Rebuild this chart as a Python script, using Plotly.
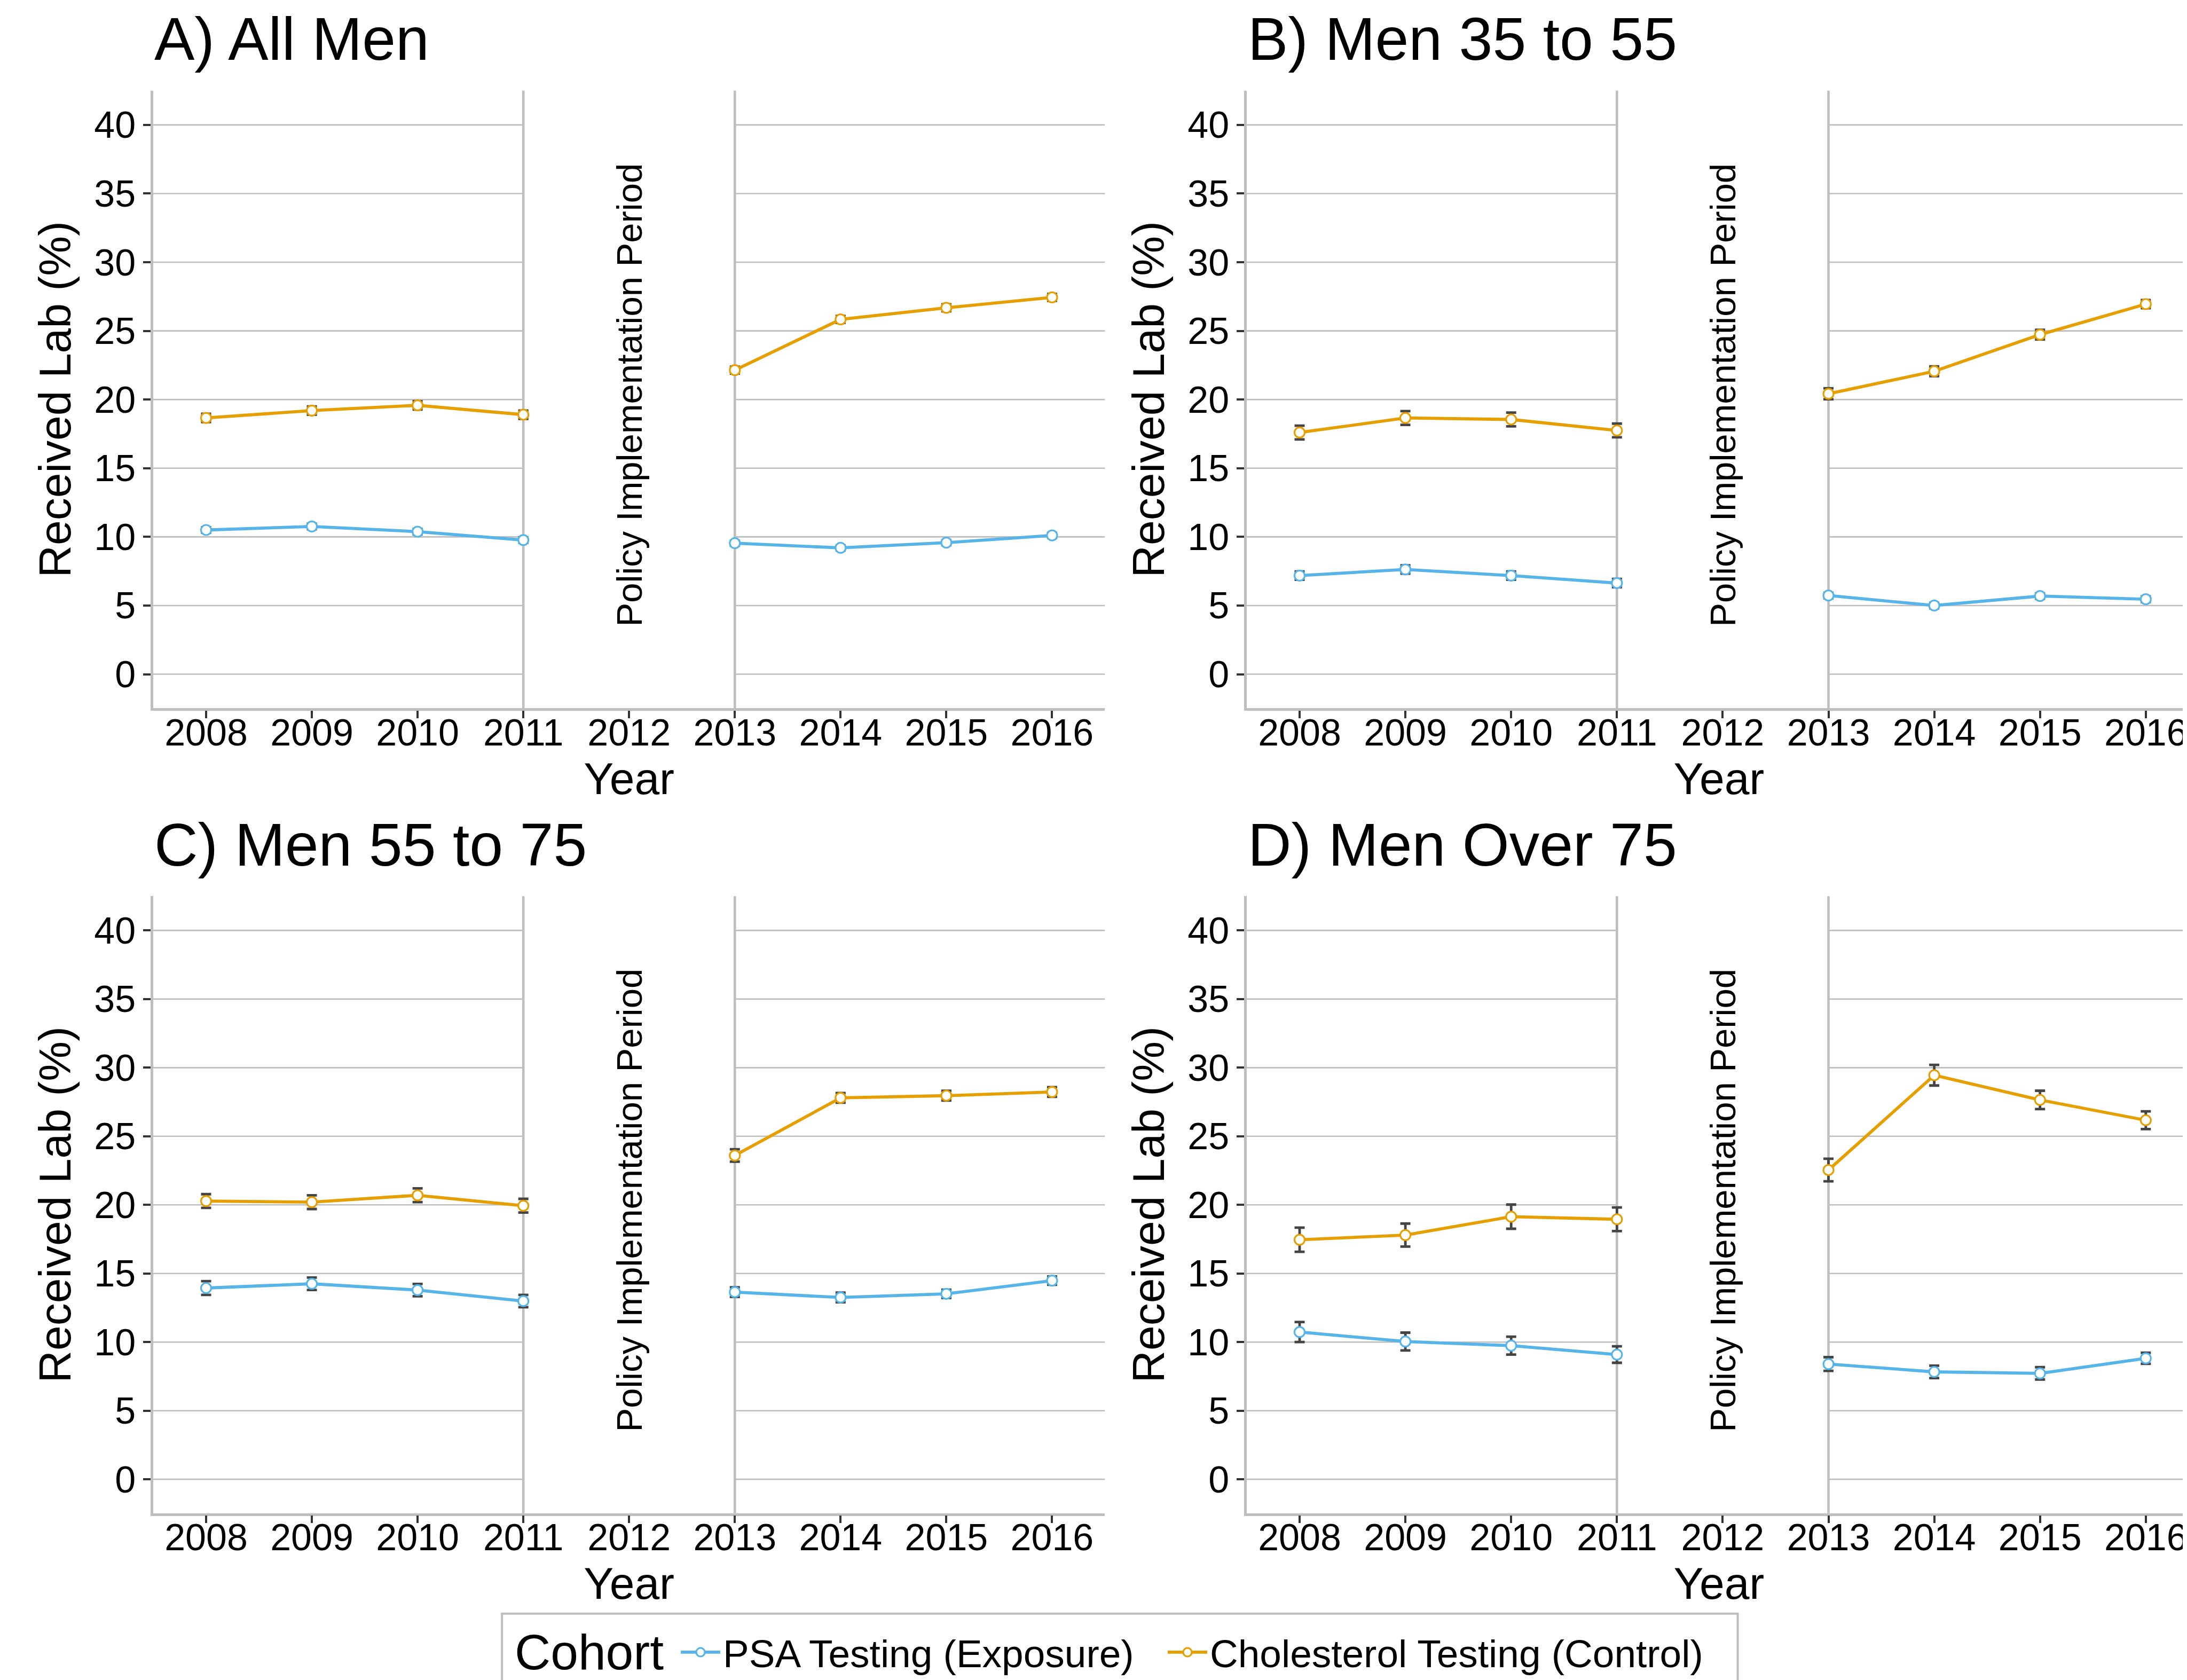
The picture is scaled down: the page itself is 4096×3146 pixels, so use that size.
import plotly.graph_objects as go

# ---------------- data ----------------
years_pre = [2008, 2009, 2010, 2011]
years_post = [2013, 2014, 2015, 2016]
tick_years = [2008, 2009, 2010, 2011, 2012, 2013, 2014, 2015, 2016]
y_ticks = [0, 5, 10, 15, 20, 25, 30, 35, 40]

panel_titles = ["A) All Men", "B) Men 35 to 55", "C) Men 55 to 75", "D) Men Over 75"]
series_names = ["PSA Testing (Exposure)", "Cholesterol Testing (Control)"]

# values for years 2008-2011, 2013-2016
psa_A = [10.50, 10.76, 10.38, 9.77, 9.54, 9.20, 9.58, 10.11]
chol_A = [18.66, 19.20, 19.58, 18.90, 22.14, 25.84, 26.68, 27.44]
psa_A_err = [0.20, 0.20, 0.20, 0.20, 0.18, 0.18, 0.18, 0.18]
chol_A_err = [0.30, 0.30, 0.30, 0.30, 0.25, 0.25, 0.25, 0.25]

psa_B = [7.18, 7.63, 7.18, 6.64, 5.73, 5.00, 5.69, 5.46]
chol_B = [17.60, 18.66, 18.55, 17.75, 20.42, 22.06, 24.73, 26.95]
psa_B_err = [0.30, 0.30, 0.30, 0.30, 0.20, 0.20, 0.20, 0.20]
chol_B_err = [0.50, 0.50, 0.50, 0.50, 0.40, 0.35, 0.35, 0.30]

psa_C = [13.94, 14.25, 13.79, 12.99, 13.64, 13.25, 13.52, 14.48]
chol_C = [20.28, 20.20, 20.70, 19.94, 23.60, 27.80, 27.96, 28.23]
psa_C_err = [0.50, 0.45, 0.45, 0.45, 0.35, 0.35, 0.30, 0.30]
chol_C_err = [0.50, 0.50, 0.50, 0.50, 0.45, 0.35, 0.35, 0.35]

psa_D = [10.73, 10.04, 9.74, 9.09, 8.40, 7.83, 7.72, 8.82]
chol_D = [17.46, 17.80, 19.14, 18.95, 22.54, 29.45, 27.65, 26.17]
psa_D_err = [0.73, 0.65, 0.65, 0.60, 0.50, 0.45, 0.45, 0.40]
chol_D_err = [0.88, 0.84, 0.88, 0.86, 0.82, 0.75, 0.67, 0.65]

psa_vals = [psa_A, psa_B, psa_C, psa_D]
chol_vals = [chol_A, chol_B, chol_C, chol_D]
psa_errs = [psa_A_err, psa_B_err, psa_C_err, psa_D_err]
chol_errs = [chol_A_err, chol_B_err, chol_C_err, chol_D_err]

# ---------------- style ----------------
FONT = "Liberation Sans, Arial, Helvetica, sans-serif"
BLUE = "#56B4E9"
ORANGE = "#E69F00"
GRID = "#BEBEBE"
ERR = "#444444"
W, H = 4096, 3146
RW, RH = 4258.0, 3270.0
S = W / RW

# panel geometry (reference pixels)
x_doms = [(290 / RW, 2143 / RW), (2419 / RW, 1.0), (290 / RW, 2143 / RW), (2419 / RW, 1.0)]
y_doms = [(1 - 1370 / RH, 1 - 168 / RH), (1 - 1370 / RH, 1 - 168 / RH),
          (1 - 2937 / RH, 1 - 1736 / RH), (1 - 2937 / RH, 1 - 1736 / RH)]
x_ranges = [[2007.5, 2016.5], [2007.5, 2016.43], [2007.5, 2016.5], [2007.5, 2016.43]]
y_range = [-2.47, 42.5]

fig = go.Figure()

for p in range(4):
    xa = "x" if p == 0 else f"x{p+1}"
    ya = "y" if p == 0 else f"y{p+1}"
    for name, vals, errs, col, leg in [(series_names[0], psa_vals[p], psa_errs[p], BLUE, "legend"),
                                        (series_names[1], chol_vals[p], chol_errs[p], ORANGE, "legend2")]:
        for seg, yrs in enumerate([years_pre, years_post]):
            sl = slice(0, 4) if seg == 0 else slice(4, 8)
            fig.add_trace(go.Scatter(
                x=yrs, y=vals[sl],
                mode="lines+markers",
                name=name, legendgroup=name, legend=leg,
                showlegend=(p == 0 and seg == 0),
                line=dict(color=col, width=5.8),
                marker=dict(symbol="circle", size=19, color="white",
                            line=dict(color=col, width=3.2)),
                error_y=dict(type="data", array=errs[sl], color=ERR,
                             thickness=4.8, width=9.5),
                xaxis=xa, yaxis=ya,
            ))

axis_common = dict(
    showline=True, linecolor=GRID, linewidth=4.6,
    ticks="outside", tickcolor="#333333", ticklen=14, tickwidth=4.4,
    tickfont=dict(family=FONT, size=70, color="black"),
    zeroline=False, showgrid=False,
)
legend_common = dict(
    orientation="h", xanchor="left", y=1 - 3086 / H, yanchor="middle",
    borderwidth=0, bgcolor="rgba(0,0,0,0)",
    font=dict(family=FONT, size=73, color="black"),
    itemwidth=74, tracegroupgap=0,
)
layout = dict(
    width=W, height=H,
    margin=dict(l=0, r=0, t=0, b=0, autoexpand=False),
    paper_bgcolor="white", plot_bgcolor="white",
    font=dict(family=FONT, color="black"),
    showlegend=True,
    legend=dict(legend_common, x=1262 / W),
    legend2=dict(legend_common, x=2174 / W),
)
for p in range(4):
    sx = "xaxis" if p == 0 else f"xaxis{p+1}"
    sy = "yaxis" if p == 0 else f"yaxis{p+1}"
    ya = "y" if p == 0 else f"y{p+1}"
    xa = "x" if p == 0 else f"x{p+1}"
    layout[sx] = dict(
        axis_common, domain=list(x_doms[p]), range=x_ranges[p], anchor=ya,
        tickmode="array", tickvals=tick_years, ticktext=[str(t) for t in tick_years],
        ticklabelstandoff=-33,
        title=dict(text="Year", font=dict(family=FONT, size=84), standoff=4),
    )
    layout[sy] = dict(
        axis_common, domain=list(y_doms[p]), range=y_range, anchor=xa,
        tickmode="array", tickvals=y_ticks,
        ticklabelstandoff=0,
        title=dict(text="Received Lab (%)", font=dict(family=FONT, size=84), standoff=17),
    )
fig.update_layout(**layout)

shapes = []
annotations = []
for p in range(4):
    xa = "x" if p == 0 else f"x{p+1}"
    ya = "y" if p == 0 else f"y{p+1}"
    x0, x1 = x_ranges[p]
    # horizontal grid lines, interrupted over the policy implementation period
    for yv in y_ticks:
        for a, b in ((x0, 2011), (2013, x1)):
            shapes.append(dict(type="line", xref=xa, yref=ya, x0=a, x1=b, y0=yv, y1=yv,
                               line=dict(color=GRID, width=2.6), layer="below"))
    for xv in (2011, 2013):
        shapes.append(dict(type="line", xref=xa, yref=f"{ya} domain", x0=xv, x1=xv, y0=0, y1=1,
                           line=dict(color=GRID, width=4.6), layer="below"))
    annotations.append(dict(
        text="Policy Implementation Period", x=2012, y=20.35, xref=xa, yref=ya,
        textangle=-90, showarrow=False, xanchor="center", yanchor="middle",
        font=dict(family=FONT, size=67, color="black")))
    # panel title
    fs = 113
    base_full = 122 if p < 2 else 1690
    base_out = base_full * S
    center_out = base_out - 0.3465 * fs - 13
    annotations.append(dict(
        text=panel_titles[p], x=x_doms[p][0], y=1 - center_out / H, xref="paper", yref="paper",
        showarrow=False, xanchor="left", yanchor="middle",
        font=dict(family=FONT, size=fs, color="black")))

# legend frame and title
shapes.append(dict(type="rect", xref="paper", yref="paper",
                   x0=969 * S / W, x1=3375 * S / W, y0=1 - 3133 * S / H, y1=-0.05,
                   line=dict(color=GRID, width=4), fillcolor="rgba(0,0,0,0)", layer="above"))
annotations.append(dict(
    text="Cohort", x=954 / W, y=1 - 3086 / H, xref="paper", yref="paper",
    showarrow=False, xanchor="left", yanchor="middle",
    font=dict(family=FONT, size=93, color="black")))

fig.update_layout(shapes=shapes, annotations=annotations)
fig.write_html("out.html")
